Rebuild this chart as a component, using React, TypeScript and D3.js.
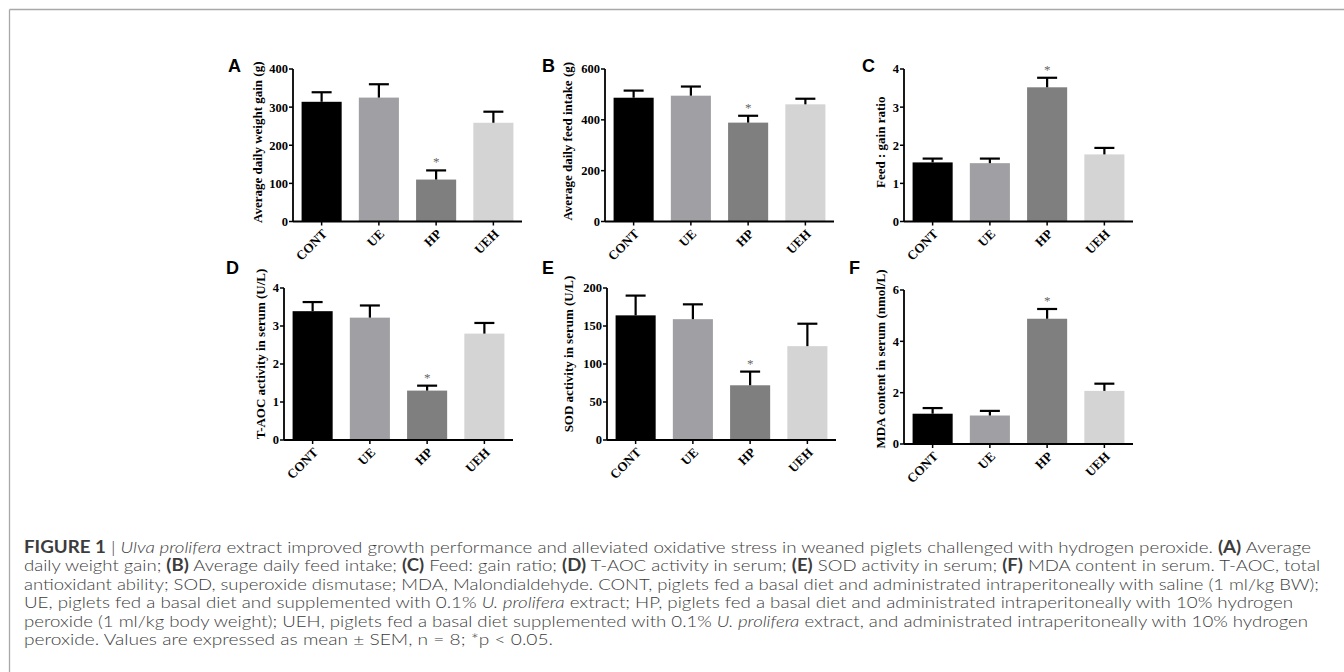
import React from 'react';
import * as d3 from 'd3';

// groups and fills
const groups = ['CONT', 'UE', 'HP', 'UEH'];
const groupColors = ['#000000', '#a09fa4', '#7f7f7f', '#d4d4d4'];
const significant = [false, false, true, false];

// (A) average daily weight gain, g
const adgMean = [314, 325, 110, 259];
const adgSem = [25, 35, 24, 29];
const adgTicks = [0, 100, 200, 300, 400];

// (B) average daily feed intake, g
const adfiMean = [487, 495, 389, 461];
const adfiSem = [28, 36, 27, 22];
const adfiTicks = [0, 200, 400, 600];

// (C) feed : gain ratio
const fgMean = [1.55, 1.53, 3.52, 1.76];
const fgSem = [0.1, 0.12, 0.25, 0.17];
const fgTicks = [0, 1, 2, 3, 4];

// (D) T-AOC activity in serum, U/L
const taocMean = [3.39, 3.22, 1.3, 2.8];
const taocSem = [0.24, 0.32, 0.13, 0.28];
const taocTicks = [0, 1, 2, 3, 4];

// (E) SOD activity in serum, U/L
const sodMean = [164, 159, 72, 123.5];
const sodSem = [26, 19.5, 18, 29.5];
const sodTicks = [0, 50, 100, 150, 200];

// (F) MDA content in serum, nmol/L
const mdaMean = [1.18, 1.11, 4.88, 2.07];
const mdaSem = [0.22, 0.18, 0.38, 0.28];
const mdaTicks = [0, 2, 4, 6];

const serif = '"Liberation Serif", "Times New Roman", serif';
const sans = '"Liberation Sans", Arial, sans-serif';
const captionFont = 'Lato, Roboto, "Liberation Sans", sans-serif';

type PanelProps = {
  letter: string;
  title: string;
  means: number[];
  sems: number[];
  ticks: number[];
  x0: number;
  top: number;
  bottom: number;
  titleDx: number;
  titleDy: number;
  letterX: number;
  letterY: number;
};

const Panel = ({ letter, title, means, sems, ticks, x0, top, bottom, titleDx, titleDy, letterX, letterY }: PanelProps) => {
  const width = 229;
  const xScale = d3.scaleBand<string>()
    .domain(groups)
    .range([x0, x0 + width])
    .paddingInner(0.3)
    .paddingOuter(0.15);
  const yScale = d3.scaleLinear()
    .domain([0, ticks[ticks.length - 1]])
    .range([bottom, top]);
  const bw = xScale.bandwidth();

  return (
    <g>
      <text x={letterX} y={letterY} fontFamily={sans} fontWeight='bold' fontSize={18} fill='#000'>{letter}</text>
      <text
        transform={`translate(${x0 + titleDx}, ${(top + bottom) / 2 + titleDy}) rotate(-90)`}
        textAnchor='middle' fontFamily={serif} fontWeight='bold' fontSize={13} fill='#000'
      >{title}</text>

      {groups.map((g, i) => {
        const cx = xScale(g)! + bw / 2;
        const yTop = yScale(means[i]);
        const yErr = yScale(means[i] + sems[i]);
        return (
          <g key={g}>
            <rect x={xScale(g)} y={yTop} width={bw} height={bottom - yTop} fill={groupColors[i]} />
            <line x1={cx} x2={cx} y1={yTop} y2={yErr} stroke='#000' strokeWidth={2.2} />
            <line x1={cx - 10} x2={cx + 10} y1={yErr} y2={yErr} stroke='#000' strokeWidth={2.2} />
            {significant[i] && (
              <text x={cx} y={yErr - 4} textAnchor='middle' fontFamily={serif} fontSize={13} fill='#666'>*</text>
            )}
          </g>
        );
      })}

      {/* y axis */}
      <line x1={x0} x2={x0} y1={top} y2={bottom} stroke='#000' strokeWidth={1.8} />
      {ticks.map(t => (
        <g key={t}>
          <line x1={x0 - 4} x2={x0} y1={yScale(t)} y2={yScale(t)} stroke='#000' strokeWidth={1.5} />
          <text x={x0 - 5} y={yScale(t)} dy='0.35em' textAnchor='end' fontFamily={serif} fontWeight='bold' fontSize={12.5}>{t}</text>
        </g>
      ))}

      {/* x axis */}
      <line x1={x0} x2={x0 + width} y1={bottom} y2={bottom} stroke='#000' strokeWidth={1.8} />
      {groups.map(g => {
        const cx = xScale(g)! + bw / 2;
        return (
          <g key={g}>
            <line x1={cx} x2={cx} y1={bottom} y2={bottom + 4} stroke='#000' strokeWidth={1.5} />
            <text
              transform={`translate(${cx + 3}, ${bottom + 10}) rotate(-45)`}
              textAnchor='end' dy='0.35em' fontFamily={serif} fontWeight='bold' fontSize={13}
            >{g}</text>
          </g>
        );
      })}
    </g>
  );
};

const App = () => {
  const lineX = 24;
  const lineH = 18.4;
  const base = 553;

  return (
    <svg width={1344} height={672} style={{ position: 'absolute', left: 0, top: 0 }}>
      <rect width={1344} height={672} fill='#fff' />
      <line x1={9.5} x2={1344} y1={9.5} y2={9.5} stroke='#a8a8a8' strokeWidth={1.3} />
      <line x1={9.5} x2={9.5} y1={9.5} y2={672} stroke='#a8a8a8' strokeWidth={1.3} />

      <Panel letter='A' title='Average daily weight gain (g)' means={adgMean} sems={adgSem} ticks={adgTicks}
        x0={293} top={69} bottom={221.5} titleDx={-31} titleDy={-3} letterX={228} letterY={72} />
      <Panel letter='B' title='Average daily feed intake (g)' means={adfiMean} sems={adfiSem} ticks={adfiTicks}
        x0={605} top={69} bottom={221.5} titleDx={-33} titleDy={-4} letterX={542} letterY={72} />
      <Panel letter='C' title='Feed : gain ratio' means={fgMean} sems={fgSem} ticks={fgTicks}
        x0={904} top={69} bottom={221.5} titleDx={-19} titleDy={-3} letterX={862} letterY={72} />
      <Panel letter='D' title='T-AOC activity in serum (U/L)' means={taocMean} sems={taocSem} ticks={taocTicks}
        x0={284} top={288} bottom={440} titleDx={-19} titleDy={-10} letterX={226} letterY={274} />
      <Panel letter='E' title='SOD activity in serum (U/L)' means={sodMean} sems={sodSem} ticks={sodTicks}
        x0={607} top={288} bottom={440} titleDx={-34} titleDy={-10} letterX={542} letterY={274} />
      <Panel letter='F' title='MDA content in serum (nmol/L)' means={mdaMean} sems={mdaSem} ticks={mdaTicks}
        x0={904} top={290} bottom={444} titleDx={-19} titleDy={-8} letterX={849} letterY={274} />

      <g fontFamily={captionFont} fontSize={16.5} fontWeight={300} fill='#3c3c3c'>
        <text x={lineX} y={base} textLength={1311 - lineX} lengthAdjust='spacingAndGlyphs'>
          <tspan fontWeight='bold'>FIGURE 1</tspan> | <tspan fontStyle='italic'>Ulva prolifera</tspan> extract improved growth performance and alleviated oxidative stress in weaned piglets challenged with hydrogen peroxide. <tspan fontWeight='bold'>(A)</tspan> Average
        </text>
        <text x={lineX} y={base + lineH} textLength={1320 - lineX} lengthAdjust='spacingAndGlyphs'>
          daily weight gain; <tspan fontWeight='bold'>(B)</tspan> Average daily feed intake; <tspan fontWeight='bold'>(C)</tspan> Feed: gain ratio; <tspan fontWeight='bold'>(D)</tspan> T-AOC activity in serum; <tspan fontWeight='bold'>(E)</tspan> SOD activity in serum; <tspan fontWeight='bold'>(F)</tspan> MDA content in serum. T-AOC, total
        </text>
        <text x={lineX} y={base + lineH * 2} textLength={1319 - lineX} lengthAdjust='spacingAndGlyphs'>
          antioxidant ability; SOD, superoxide dismutase; MDA, Malondialdehyde. CONT, piglets fed a basal diet and administrated intraperitoneally with saline (1 ml/kg BW);
        </text>
        <text x={lineX} y={base + lineH * 3} textLength={1293 - lineX} lengthAdjust='spacingAndGlyphs'>
          UE, piglets fed a basal diet and supplemented with 0.1% <tspan fontStyle='italic'>U. prolifera</tspan> extract; HP, piglets fed a basal diet and administrated intraperitoneally with 10% hydrogen
        </text>
        <text x={lineX} y={base + lineH * 4} textLength={1308 - lineX} lengthAdjust='spacingAndGlyphs'>
          peroxide (1 ml/kg body weight); UEH, piglets fed a basal diet supplemented with 0.1% <tspan fontStyle='italic'>U. prolifera</tspan> extract, and administrated intraperitoneally with 10% hydrogen
        </text>
        <text x={lineX} y={base + lineH * 5} textLength={553 - lineX} lengthAdjust='spacingAndGlyphs'>
          peroxide. Values are expressed as mean ± SEM, n = 8; *p &lt; 0.05.
        </text>
      </g>
    </svg>
  );
};

export default App;
